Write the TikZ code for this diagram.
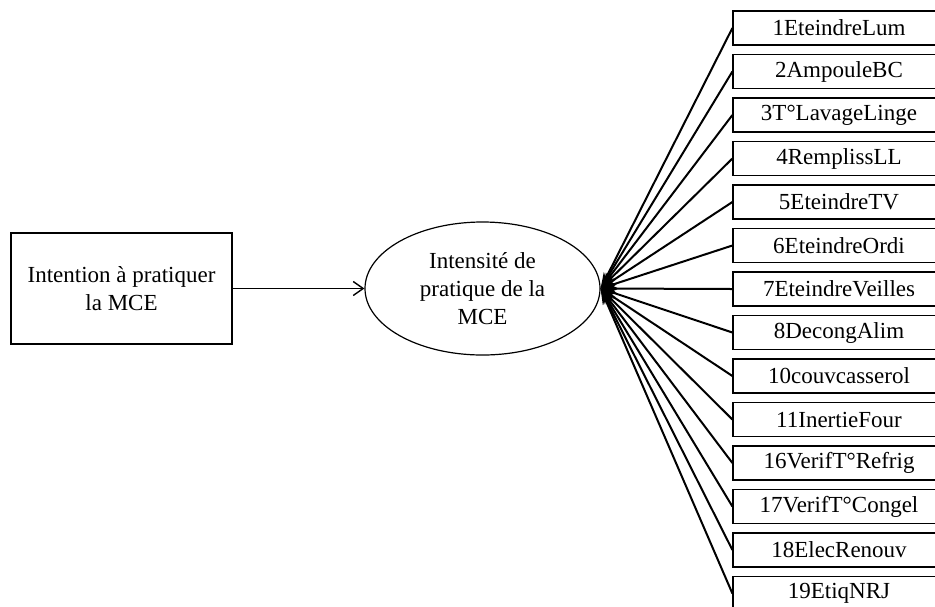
\documentclass[tikz,border=0pt]{standalone}
\usepackage{fontspec}
\setmainfont{Liberation Serif}
\usetikzlibrary{arrows.meta,shapes.geometric}
\begin{document}
\begin{tikzpicture}[x=0.5pt,y=-0.5pt,
    txt/.style={font=\fontsize{11.5pt}{14pt}\selectfont},
    item/.style={draw,line width=0.6pt,txt,minimum width=106pt,minimum height=17pt,inner sep=0pt},
    load/.style={line width=1pt,-{Stealth[length=8pt,width=4.5pt]}}]
        \useasboundingbox (0,0) rectangle (935,606);
        \clip (0,0) rectangle (935,606);
        \node [draw,line width=0.6pt,txt,align=center,minimum width=110.5pt,minimum height=55.5pt] (intention) at (121.5,288.5) {Intention à pratiquer\\la MCE};
        \node [ellipse,draw,line width=0.6pt,txt,align=center,inner sep=0pt,minimum width=117.5pt,minimum height=66.5pt] (intensite) at (482.5,288.5) {Intensité de\\pratique de la\\MCE};
        \draw [line width=0.7pt,-{Straight Barb[length=5pt,width=7pt]}] (intention) -- (intensite);
        \coordinate (hub) at (intensite.east);
        \foreach \lbl [count=\i from 0] in {1EteindreLum,2AmpouleBC,3T°LavageLinge,4RemplissLL,5EteindreTV,6EteindreOrdi,7EteindreVeilles,8DecongAlim,10couvcasserol,11InertieFour,16VerifT°Refrig,17VerifT°Congel,18ElecRenouv,19EtiqNRJ}{
          \node [item] (ind\i) at (839,28+43.5*\i) {\lbl};
          \draw [load] (ind\i.west) -- (hub);
        }
      \end{tikzpicture}
\end{document}
